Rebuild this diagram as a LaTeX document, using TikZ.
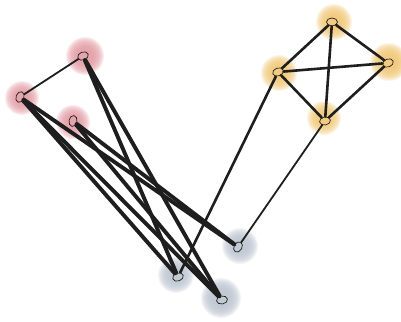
\documentclass[tikz,border=0pt]{standalone}
\usetikzlibrary{shapes.geometric}
\definecolor{blobred}{RGB}{226,156,164}
\definecolor{blobyel}{RGB}{240,198,116}
\definecolor{blobgray}{RGB}{188,196,208}
\definecolor{ink}{RGB}{30,30,30}
\tikzset{
  vtx/.style={ellipse, draw=ink, line width=0.7pt, minimum width=11pt, minimum height=8pt, inner sep=0pt},
  edg/.style={draw=ink, line cap=round, line width=3.9pt},
  thinedg/.style={draw=ink, line cap=round, line width=1.8pt},
  midedg/.style={draw=ink, line cap=round, line width=2.6pt},
}
\newcommand{\myblob}[3]{%
  \foreach \k in {0,...,11} {\fill[#1, opacity=0.18] #2 circle ({#3+1-\k*1.0});}
}
\begin{document}
\begin{tikzpicture}[x=1pt,y=-1pt]
\useasboundingbox (0,0) rectangle (401,321);
% blobs
\myblob{blobred}{(85,56)}{18}
\myblob{blobred}{(22,98)}{16}
\myblob{blobred}{(73,122)}{16}
\myblob{blobyel}{(334,22)}{17}
\myblob{blobyel}{(389,62)}{18}
\myblob{blobyel}{(279,73)}{17}
\myblob{blobyel}{(324,118)}{16}
\myblob{blobgray}{(240,246)}{17}
\myblob{blobgray}{(176,275)}{17}
\myblob{blobgray}{(221,298)}{19}
% vertices
\node[vtx, rotate=20] (r1) at (83,56) {};
\node[vtx, rotate=70] (r2) at (20,97) {};
\node[vtx, rotate=80] (r3) at (73,121) {};
\node[vtx] (y1) at (332,22) {};
\node[vtx, rotate=20] (y2) at (388,63) {};
\node[vtx, rotate=20] (y3) at (278,72) {};
\node[vtx, rotate=10] (y4) at (325,121) {};
\node[vtx, rotate=60] (g1) at (238,247) {};
\node[vtx, rotate=20] (g2) at (178,277) {};
\node[vtx, rotate=10] (g3) at (222,300) {};
% edges
\draw[thinedg] (r1) -- (r2);
\draw[midedg] (y3) -- (y1);
\draw[midedg] (y1) -- (y2);
\draw[midedg] (y1) -- (y4);
\draw[midedg] (y3) -- (y2);
\draw[midedg] (y3) -- (y4);
\draw[midedg] (y2) -- (y4);
\draw[midedg] (y3) -- (g2);
\draw[thinedg] (y4) -- (g1);
\draw[edg] (r1) -- (g2);
\draw[edg] (r1) -- (g3);
\draw[edg] (r2) -- (g2);
\draw[edg] (r2) -- (g3);
\draw[edg] (r2) -- (g1);
\draw[edg] (r3) -- (g1);
\draw[edg] (r3) -- (g3);
\end{tikzpicture}
\end{document}
